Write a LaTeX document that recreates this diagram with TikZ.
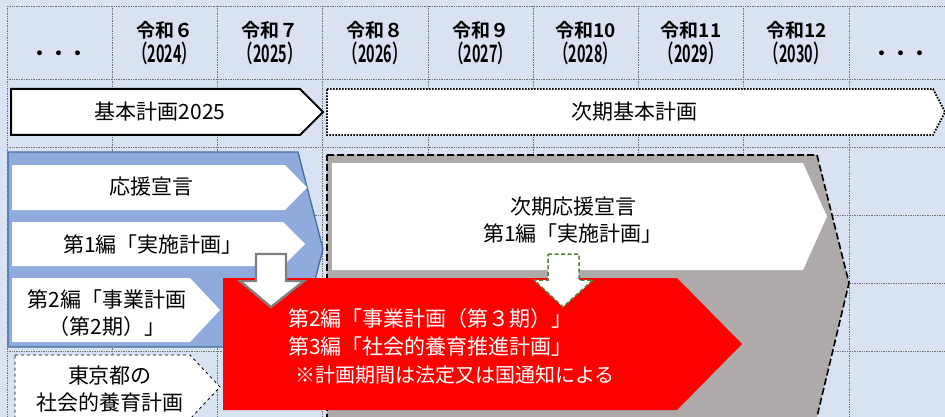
\documentclass[tikz,border=0pt]{standalone}
\usepackage{fontspec}
\setmainfont{Noto Sans CJK JP}[BoldFont={Noto Sans CJK JP Bold}]
\newfontfamily\yearfont[FakeStretch=0.6]{Noto Sans CJK JP Bold}
\usetikzlibrary{calc}

\definecolor{bgblue}{HTML}{D9E2F3}
\definecolor{grpblue}{HTML}{8FAADC}
\definecolor{grpedge}{HTML}{41719C}
\definecolor{nextgray}{HTML}{AEAAAA}
\definecolor{arrgreen}{HTML}{548235}
\tikzset{
  gridline/.style={draw=black!55,densely dotted,line width=0.7pt},
  plan/.style={draw=black,line width=2pt,fill=white},
  nextplan/.style={draw=black,line width=1.8pt,fill=white,dash pattern=on 1.6pt off 1.4pt},
  lbl/.style={font=\fontsize{21}{27}\selectfont,align=center,inner sep=0pt},
  hdr/.style={font=\bfseries\fontsize{19}{24}\selectfont,inner sep=0pt},
}

\begin{document}
\begin{tikzpicture}[x=1pt,y=-1pt]
    \useasboundingbox (0,0) rectangle (945,417);
    \clip (0,0) rectangle (945,417);
    \fill[bgblue] (0,0) rectangle (945,417);
    % table grid
    \foreach \y in {6,79,147,215,283,351} {
        \draw[gridline] (7,\y) -- (945,\y);
      }
    \foreach \i in {0,...,8} {
        \draw[gridline] ({7+\i*105.25},6) -- ({7+\i*105.25},417);
      }
    % header
    \foreach \i/\era/\yr in {1/令和６/2024,2/令和７/2025,3/令和８/2026,4/令和９/2027,
        5/令和10/2028,6/令和11/2029,7/令和12/2030} {
        \node[hdr] (era\i) at ({7+(\i+0.5)*105.25},30) {\era};
        \node[hdr,font=\yearfont\fontsize{24}{24}\selectfont] (yr\i) at ({7+(\i+0.5)*105.25},53) {（\yr）};
      }
    \node[hdr] (dotsl) at (59,56) {・・・};
    \node[hdr] (dotsr) at (901,56) {・・・};

    % basic plans
    \draw[plan] (11,89) -- (300,89) -- (323,112) -- (300,135) -- (11,135) -- cycle;
    \node[lbl] (kihon) at (160,112) {基本計画2025};
    \draw[nextplan] (327,89) -- (933,89) -- (945,112) -- (933,135) -- (327,135) -- cycle;
    \node[lbl] (jiki) at (634,112) {次期基本計画};

    % next period block
    \draw[fill=nextgray,draw=black,line width=1.6pt,dash pattern=on 7pt off 3pt]
    (327,155) -- (817,155) -- (849,283) -- (815,425) -- (327,425) -- cycle;
    \fill[white] (332,163) -- (803,163) -- (827,216.5) -- (803,270) -- (332,270) -- cycle;
    \node[lbl] (jikiouen) at (573,220) {次期応援宣言\\第1編「実施計画」};

    % current block
    \draw[fill=grpblue,draw=grpedge,line width=1.3pt]
    (8,152) -- (298,152) -- (323,249) -- (298,347) -- (8,347) -- cycle;
    \fill[white] (12,165) -- (285,165) -- (307,187.5) -- (285,210) -- (12,210) -- cycle;
    \node[lbl] (ouen) at (151,187) {応援宣言};
    \fill[white] (12,222) -- (283,222) -- (305,244) -- (283,266) -- (12,266) -- cycle;
    \node[lbl] (jisshi) at (153,245) {第1編「実施計画」};
    \fill[white] (12,278) -- (190,278) -- (220,310) -- (190,342) -- (12,342) -- cycle;
    \node[lbl] (jigyo) at (107,313) {第2編「事業計画\\（第2期）」};

    % tokyo plan
    \draw[fill=white,draw=black,dashed,line width=0.8pt]
    (15,355) -- (190,355) -- (220,387) -- (190,419) -- (15,419) -- cycle;
    \node[lbl] (tokyo) at (110,389) {東京都の\\社会的養育計画};

    % red block
    \fill[red] (223,278) -- (677,278) -- (742,344) -- (677,410) -- (223,410) -- cycle;
    \node[lbl,text=white,align=left,anchor=north west,font=\fontsize{21}{28}\selectfont] (dai2) at (288,308)
    {第2編「事業計画（第３期）」\\第3編「社会的養育推進計画」\\
      \hspace*{7pt}{\fontsize{20}{28}\selectfont ※計画期間は法定又は国通知による}};

    % down arrows
    \draw[fill=white,draw=black!50,line width=2.4pt,line join=miter]
    (256,254) -- (286,254) -- (286,281) -- (304,281) -- (271,307) -- (240,281) -- (256,281) -- cycle;
    \draw[fill=white,draw=arrgreen,line width=1.5pt,dash pattern=on 4pt off 2.5pt]
    (548,254) -- (579,254) -- (579,280) -- (593,280) -- (563,307) -- (534,280) -- (548,280) -- cycle;
  \end{tikzpicture}
\end{document}
